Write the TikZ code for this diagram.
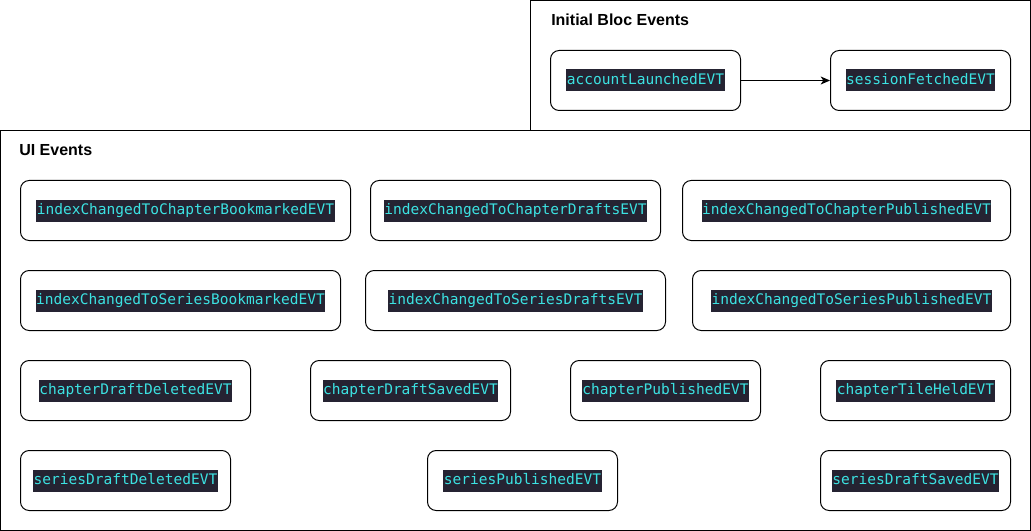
\documentclass[tikz,border=0pt]{standalone}
\usepackage{fontspec}
\setmainfont{Liberation Sans}
\newfontfamily\evtfont{DejaVu Sans Mono}
\usetikzlibrary{arrows.meta}
\definecolor{evbg}{RGB}{37,35,50}
\definecolor{evfg}{RGB}{60,226,226}
\newcommand\evtlabel[1]{{\setlength{\fboxsep}{0pt}\colorbox{evbg}{\rule[-4.9pt]{0pt}{16.5pt}\hspace{0.3pt}\textcolor{evfg}{\evtfont\fontsize{10.9pt}{12pt}\selectfont #1}\hspace{0.3pt}}}}
\tikzset{
  evt/.style={draw=black, line width=0.75pt, rounded corners=6.5pt, minimum height=45pt, inner sep=0pt, fill=white},
  group/.style={draw=black, line width=0.75pt},
  grouptitle/.style={anchor=west, inner sep=0pt, font=\bfseries\fontsize{12pt}{14pt}\selectfont},
  flow/.style={draw=black, line width=0.75pt, -{Stealth[length=7pt,width=6pt,inset=2pt]}}
}
\begin{document}
\begin{tikzpicture}[x=0.75pt,y=-0.75pt]
\useasboundingbox (0,0) rectangle (1031,531);
% containers
\draw[group] (530.5,0.5) rectangle (1030.5,130.5);
\draw[group] (0.5,130.5) rectangle (1030.5,530.5);
\node[grouptitle] (t1) at (551,20) {Initial Bloc Events};
\node[grouptitle] (t2) at (19,150) {UI Events};
% initial bloc events
\node[evt, minimum width=142.5pt] (acc) at (645.5,80.5) {\evtlabel{accountLaunchedEVT}};
\node[evt, minimum width=135pt] (ses) at (920.5,80.5) {\evtlabel{sessionFetchedEVT}};
\draw[flow] (acc) -- (ses);
% row 1
\node[evt, minimum width=247.5pt] (r1a) at (185.5,210.5) {\evtlabel{indexChangedToChapterBookmarkedEVT}};
\node[evt, minimum width=217.5pt] (r1b) at (515.5,210.5) {\evtlabel{indexChangedToChapterDraftsEVT}};
\node[evt, minimum width=246pt] (r1c) at (846.5,210.5) {\evtlabel{indexChangedToChapterPublishedEVT}};
% row 2
\node[evt, minimum width=240pt] (r2a) at (180.5,300.5) {\evtlabel{indexChangedToSeriesBookmarkedEVT}};
\node[evt, minimum width=225pt] (r2b) at (515.5,300.5) {\evtlabel{indexChangedToSeriesDraftsEVT}};
\node[evt, minimum width=238.5pt] (r2c) at (851.5,300.5) {\evtlabel{indexChangedToSeriesPublishedEVT}};
% row 3
\node[evt, minimum width=172.5pt] (r3a) at (135.5,390.5) {\evtlabel{chapterDraftDeletedEVT}};
\node[evt, minimum width=150pt] (r3b) at (410.5,390.5) {\evtlabel{chapterDraftSavedEVT}};
\node[evt, minimum width=142.5pt] (r3c) at (665.5,390.5) {\evtlabel{chapterPublishedEVT}};
\node[evt, minimum width=142.5pt] (r3d) at (915.5,390.5) {\evtlabel{chapterTileHeldEVT}};
% row 4
\node[evt, minimum width=157.5pt] (r4a) at (125.5,480.5) {\evtlabel{seriesDraftDeletedEVT}};
\node[evt, minimum width=142.5pt] (r4b) at (522.5,480.5) {\evtlabel{seriesPublishedEVT}};
\node[evt, minimum width=142.5pt] (r4c) at (915.5,480.5) {\evtlabel{seriesDraftSavedEVT}};
\end{tikzpicture}
\end{document}
